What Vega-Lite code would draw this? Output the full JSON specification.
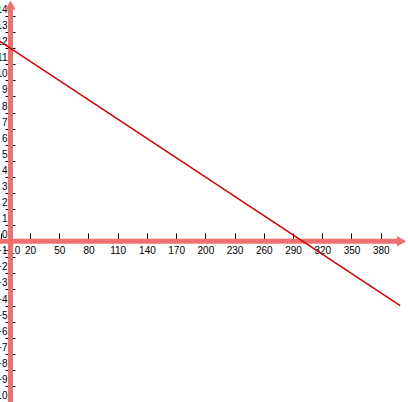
{
  "$schema": "https://vega.github.io/schema/vega-lite/v6.json",
  "width": 408,
  "height": 402,
  "padding": 0,
  "autosize": "none",
  "background": "white",
  "config": {"view": {"stroke": null}},
  "datasets": {
    "line": [{"x": -10.8, "y": 12.432}, {"x": 400, "y": -4}],
    "xaxis": [{"x": -10.8, "x2": 398, "y": 0}],
    "yaxis": [{"x": 0, "y": -10, "y2": 14.5}],
    "arrows": [{"x": 0, "y": 14.69, "dir": "up"}, {"x": 401.5, "y": 0, "dir": "right"}]
  },
  "layer": [
    {
      "data": {"name": "xaxis"},
      "mark": {"type": "rule", "color": "#f07070", "strokeWidth": 5},
      "encoding": {
        "x": {
          "field": "x", "type": "quantitative",
          "scale": {"domain": [-10.8, 408], "nice": false, "zero": false},
          "axis": {
            "orient": "bottom", "offset": -169, "zindex": 0, "tickCount": 100, "format": "d",
            "values": [-10, 20, 50, 80, 110, 140, 170, 200, 230, 260, 290, 320, 350, 380],
            "domain": false, "grid": false, "title": null,
            "tickSize": 8, "tickColor": "black", "tickWidth": 1,
            "labelPadding": 4, "labelFont": "Liberation Sans", "labelFontSize": 10,
            "labelColor": "black", "labelBaseline": "top", "labelAlign": "center",
            "labelOffset": {"condition": {"test": "datum.value == -10", "value": 10.5}, "value": 0},
            "labelFlush": false, "labelOverlap": false, "labelBound": false
          }
        },
        "x2": {"field": "x2"},
        "y": {
          "field": "y", "type": "quantitative",
          "scale": {"domain": [-10, 15], "nice": false, "zero": false},
          "axis": {
            "orient": "left", "offset": -15, "zindex": 0, "tickCount": 100, "format": "d",
            "values": [-10, -9, -8, -7, -6, -5, -4, -3, -2, -1, 0, 1, 2, 3, 4, 5, 6, 7, 8, 9, 10, 11, 12, 13, 14],
            "domain": false, "grid": false, "title": null,
            "tickSize": 10, "tickColor": "black", "tickWidth": 1,
            "labelPadding": -2, "labelFont": "Liberation Sans", "labelFontSize": 10,
            "labelColor": "black", "labelBaseline": "alphabetic", "labelAlign": "right",
            "labelOffset": -3.5,
            "labelFlush": false, "labelOverlap": false, "labelBound": false
          }
        }
      }
    },
    {
      "data": {"name": "yaxis"},
      "mark": {"type": "rule", "color": "#f07070", "strokeWidth": 5},
      "encoding": {
        "x": {"field": "x", "type": "quantitative"},
        "y": {"field": "y", "type": "quantitative"},
        "y2": {"field": "y2"}
      }
    },
    {
      "data": {"name": "arrows"},
      "mark": {"type": "point", "filled": true, "color": "#f07070", "opacity": 1, "size": 110},
      "encoding": {
        "x": {"field": "x", "type": "quantitative"},
        "y": {"field": "y", "type": "quantitative"},
        "shape": {
          "field": "dir", "type": "nominal",
          "scale": {"domain": ["up", "right"], "range": ["triangle-up", "triangle-right"]},
          "legend": null
        }
      }
    },
    {
      "data": {"name": "line"},
      "mark": {"type": "line", "color": "#cc0000", "strokeWidth": 1.5},
      "encoding": {
        "x": {"field": "x", "type": "quantitative"},
        "y": {"field": "y", "type": "quantitative"}
      }
    }
  ]
}
